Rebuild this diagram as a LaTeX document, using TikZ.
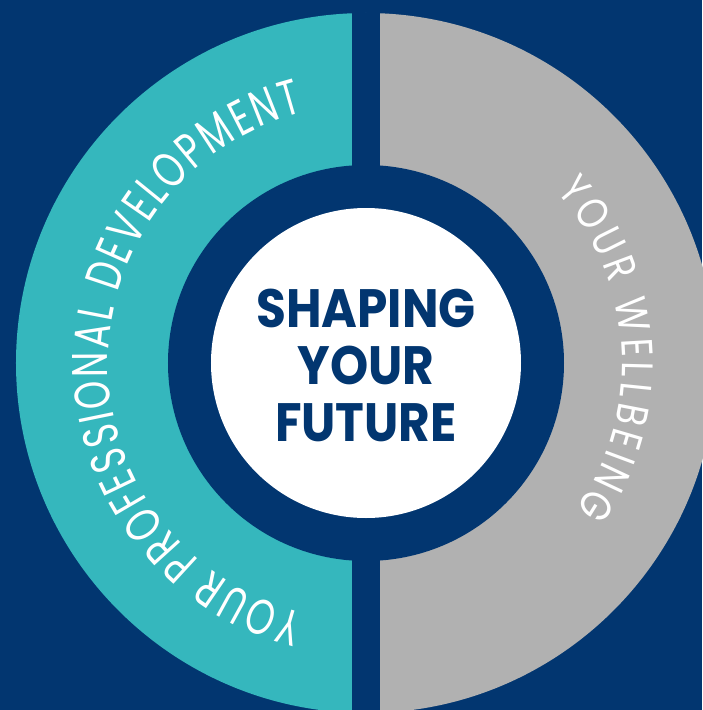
\documentclass[tikz,border=0pt]{standalone}
\usepackage{fontspec}
\usetikzlibrary{decorations.text}
\newfontfamily\ringfont{Poppins}[FakeStretch=0.72]
\newfontfamily\wellfont{Poppins}[FakeStretch=0.8]
\newfontfamily\hubfont{Poppins Bold}[FakeStretch=0.9]
\definecolor{navy}{RGB}{2,54,112}
\definecolor{ringteal}{RGB}{53,183,189}
\definecolor{ringgray}{RGB}{177,177,177}
\begin{document}
\begin{tikzpicture}[x=1pt,y=1pt,
  ringtext/.style={decorate,decoration={text along path,text align=fit to path,text color=white}}]
\fill[navy] (-366,-347) rectangle (336,363);
\useasboundingbox (-366,-347) rectangle (336,363);
\fill[ringteal] (0,350) arc[start angle=90,end angle=270,radius=350] -- cycle;
\fill[ringgray] (0,-350) arc[start angle=-90,end angle=90,radius=350] -- cycle;
\fill[navy] (-14,-350) rectangle (14,350);
\fill[navy] (0,0) circle[radius=198];
\fill[white] (0,0) circle[radius=155];
\node[navy,font={\hubfont\fontsize{54}{57}\selectfont},align=center] (hub) at (0,-2) {SHAPING\\YOUR\\FUTURE};
\path[ringtext,decoration={text={|\ringfont\fontsize{50}{50}\selectfont|YOUR PROFESSIONAL DEVELOPMENT}}]
  (256:258) arc[start angle=256,end angle=104,radius=258];
\path[ringtext,decoration={text={|\wellfont\fontsize{44}{44}\selectfont|YOUR WELLBEING}}]
  (42:256) arc[start angle=42,end angle=-35,radius=256];
\end{tikzpicture}
\end{document}
